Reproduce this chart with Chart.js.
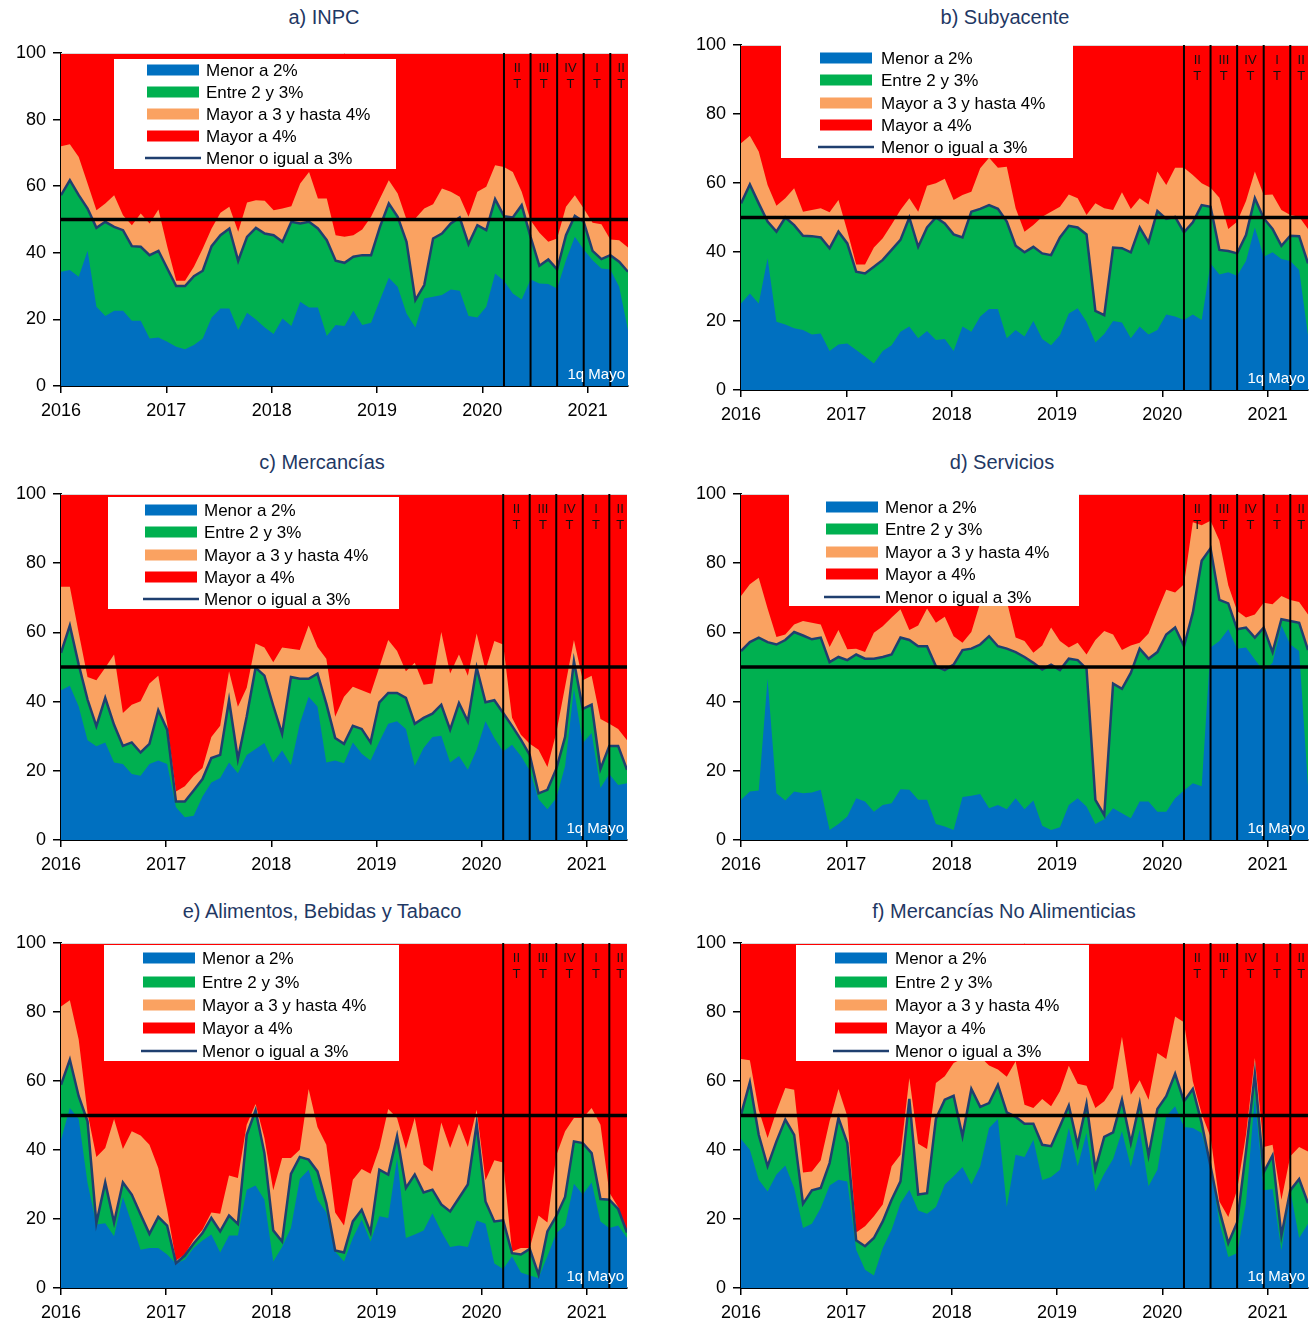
<!DOCTYPE html>
<html>
<head>
<meta charset="utf-8">
<script src="https://cdn.jsdelivr.net/npm/chart.js@4.4.0/dist/chart.umd.min.js"></script>
<style>
  html, body { margin: 0; padding: 0; background: #ffffff; }
  body { width: 1310px; height: 1328px; position: relative; overflow: hidden; font-family: "Liberation Sans", Arial, sans-serif; }
  .panel { position: absolute; }
  .title { position: absolute; transform: translate(-50%, -50%); font-size: 20px; color: #1F3864; white-space: nowrap; }
</style>
</head>
<body>
<script>
// ---------- categories / labels ----------
const years = ['2016', '2017', '2018', '2019', '2020', '2021'];
const monthNames = ['Ene','Feb','Mar','Abr','May','Jun','Jul','Ago','Sep','Oct','Nov','Dic'];
const months = [];
for (let yy = 2016; yy <= 2021; yy++) {
  for (let m = 0; m < 12; m++) {
    if (yy === 2021 && m > 4) break;
    months.push(monthNames[m] + '-' + String(yy).slice(2));
  }
}
months[months.length - 1] = '1q May-21';
const lastLabel = '1q Mayo';
const quarterEnds = [50, 53, 56, 59, 62];           // Mar-20, Jun-20, Sep-20, Dic-20, Mar-21
const quarterLabels = [['II','T'], ['III','T'], ['IV','T'], ['I','T'], ['II','T']];
const referenceLevel = 50;
const seriesNames = ['Menor a 2%', 'Entre 2 y 3%', 'Mayor a 3 y hasta 4%', 'Mayor a 4%', 'Menor o igual a 3%'];

// ---------- data (cumulative shares, % of items) ----------
// a) INPC
const inpcMenor2  = [34.3,34.8,32.8,40.6,23.8,21,22.6,22.6,19.6,19.6,14.3,14.6,13.3,11.8,11,12.3,14.3,20.6,23.3,23.3,16.8,22,20,17.6,15.6,20.3,18,25.3,23.6,23.6,15,18.3,18,22.6,18.3,19,25.8,32.5,29.8,21.8,17.6,26.3,26.8,27.3,29,28.6,21,20.6,23.8,33.8,31.6,27.8,26,32,30.8,30.6,29.3,37.8,44.8,41,37.8,35.3,35,29.8,16.8];
const inpcHasta3  = [57.3,61.8,57.3,53.3,47.5,49.3,47.8,46.8,42,41.8,39.3,40.6,35.3,30,30,33,34.6,42,45.3,47.3,37.6,44.8,47.5,45.8,45.3,43.3,49.3,48.8,49.3,47.3,43.8,37.6,37,38.8,39.3,39.3,47.8,54.8,50.8,43.3,25.8,30.3,44.3,45.8,48.8,50.6,42.6,48.3,46.8,56.1,51,50.6,54.3,44.8,36.1,38,35,45.3,51.1,49.3,40.6,38.1,39.3,37.3,34.3];
const inpcHasta4  = [72,72.6,68.8,60.8,52.8,54.8,57.3,51.3,48.3,51.8,48.8,53,41.8,31.6,31.6,35.8,41.3,47.3,52,53.8,46.3,55.1,55.8,55.6,52.8,53.3,54,60.8,64.3,56.3,56.3,45.3,44.8,45.3,47,50.8,56.3,61.8,57.8,50,50.3,53.3,54.6,59.3,58.3,56.8,50.8,58.3,59.8,66.3,65.8,64.3,58.3,49.8,46,43.3,44.3,53.8,57.3,53.3,49,48.6,44,43.8,41.6];
// b) Subyacente
const subyMenor2  = [25.1,28,25.1,38.2,19.8,19,17.9,17.4,16.1,16.4,11.3,13.2,13.5,11.6,9.7,7.7,11.3,13,16.9,18.4,15,17.1,14.5,14.8,11.3,18.4,16.9,21.3,23.5,23.5,15,17.4,15.5,20,14.8,13,15.9,22.2,23.7,19.8,13.8,16.2,20,19.6,15,18.4,16.1,17.4,21.9,21.3,20.3,21.9,20.3,36.7,33.5,34.1,33.1,37.4,47.1,38.6,39.9,38,37.4,34.8,15.9];
const subyHasta3  = [54.1,59.6,54.1,48.8,45.9,50,47.8,44.7,44.6,44.2,41.1,45.9,42.5,34.3,33.8,35.7,37.7,40.6,43.5,50,41.5,47.1,50,48.3,45.1,44.2,51.7,52.5,53.6,52.5,48.8,41.8,39.9,41.5,39.6,39.1,44.2,47.6,47.1,45.1,22.9,21.7,41.3,41.1,39.9,47.1,42.8,51.9,49.6,50.2,45.7,48.6,53.6,53.1,40.6,40.3,39.6,44.9,55.6,49.8,46.7,41.8,44.7,44.6,36.7];
const subyHasta4  = [71.5,73.7,69.1,59.4,53.4,55.6,58.5,51.7,52.2,52.7,51.5,55.1,46.1,36.4,36.4,41.3,44,48,52.2,55.6,51.7,59.2,59.9,61.2,55.1,56.5,57.5,64.3,67.3,64.4,64.7,52.7,45.9,47.8,50.2,51.7,53.1,56.7,55.6,50.7,54.1,52.7,52.2,57.3,52.5,55.6,53.8,63.3,59.4,64.4,64.4,62.3,59.9,58.6,55.7,46.7,48.8,54.8,63.3,56.5,56.7,52.2,50.7,50.2,46.7];
// c) Mercancías
const mercMenor2  = [43.3,44.6,38.6,28.8,27.1,28.2,22.4,22,19.1,18.6,22,23,22,9.5,6.6,7,12.6,16.6,17.9,22.4,19.3,24.6,26.3,28,22.4,25.9,21.7,33.6,41.4,38.6,22.4,23,22.2,28.2,24.9,23,28.5,33.6,34.3,32.1,21.4,26.6,29.8,30.1,22.4,24.3,20.3,26.1,34.3,29.5,25.6,27.5,24.3,20.1,11.8,8.9,12.1,21.4,43.7,28,30.9,15,19.1,15.9,16.4];
const mercHasta3  = [54.1,62,50.7,40.6,32.9,41.1,33.3,27.2,28.2,25.3,27.8,37.5,31.9,11.1,11.1,14.3,17.6,23.7,24.6,40.4,23.4,35.7,49.8,47.5,38.8,30.7,47.1,46.6,46.6,48.1,39.4,29.5,27.8,33,32.1,28.2,39.8,42.5,42.5,41.1,33.6,35.3,36.5,39.1,31.9,39.6,34.3,49.8,39.8,40.4,36.7,33,29,24.6,13.5,14.5,20.5,29.8,51.7,37.9,39.1,20.5,27.2,27.2,20.3];
const mercHasta4  = [73.2,73.2,59.9,47.1,46.2,49.8,53.6,36.7,39.1,40.1,45.2,47.5,33.6,14,15.5,18.6,20.8,29.8,33,48.8,38.5,44,56.8,55.6,51.4,55.6,55.3,54.9,62,55.8,52.4,35.6,41.4,44.3,43.3,42.3,50,57.8,54.6,48.8,51.2,44.9,45.2,60.1,48.1,53.6,47.5,59.7,49.1,57.5,56.5,35.3,30.4,27.8,26.1,21.1,30.9,44.4,57.8,46.2,47.5,35,33.6,32.1,28.8];
// d) Servicios
const servMenor2  = [11.6,14,14.3,46.6,13.5,11.4,14,13.5,13.7,14.5,2.9,4.6,6.8,12.1,11.1,8.2,10.1,10.6,14.7,14.5,11.6,11.6,4.6,3.9,2.9,12.4,12.8,13.3,9.2,10.1,8.9,12.1,8.9,11.4,4.1,2.9,3.7,10.1,12.1,9.7,4.6,6,9.2,7.7,6.3,11.1,11.1,8.2,8.2,12.1,14.3,16.4,15.5,55.6,57.5,60.9,55.3,55.6,52.2,48.8,51.2,62,56.5,54.6,15.5];
const servHasta3  = [54.6,57.2,58.5,57.2,56.5,57.8,60.1,59.1,58,58.5,51.4,52.9,52,53.6,52.4,52.4,52.9,53.6,58.5,57.8,56,56,50.2,49.1,50.7,54.9,55.3,56.5,58.9,56,55.3,54.3,52.9,51.2,49.3,50.7,49.1,52.4,52,49.5,11.6,7.2,45.2,43.7,48.3,55.3,52.4,54.3,59.4,61.4,56,65.7,80.7,84.3,69.4,68.4,60.9,61.4,58.5,61.4,54.3,63.8,63.3,62.8,54.9];
const servHasta4  = [70.5,73.9,75.8,66.9,58.7,59.4,62.3,63.3,62.8,62.3,55.8,60.7,55.1,55.3,54.3,59.9,61.8,64.3,66.7,60.7,62,66.9,62.8,64.5,58.9,57,60.1,68.6,68.6,68.6,69.1,58.5,57.5,54.1,56.2,61.4,57.5,55.6,57,53.6,57.8,60.4,59.4,54.9,56.2,57,59.7,66.2,72.3,71.5,73.9,91.8,91,92.3,86.5,73.6,66.2,64.3,65.2,68.6,68.1,70.5,69.4,68.8,65.2];
// e) Alimentos, Bebidas y Tabaco
const alimMenor2  = [43,52.2,49,30.4,18.4,18.8,15,26.4,18.8,11.1,11.6,11.6,9.7,7.1,8.2,11.6,13.8,15.5,10.3,15.2,15.2,28.5,29.7,25.6,7.7,11.9,17.4,31.6,34.3,25.6,21.9,10.6,7.7,14.5,19.8,13.5,20.8,20.3,37.7,14.5,15.5,16.7,21.7,16.4,11.9,12.3,11.9,19.6,18.6,7.1,5.5,9.2,4.5,3.6,2.9,9.2,15.9,18.1,30.2,27.1,30.6,19.3,17.4,18.1,14.5];
const alimHasta3  = [58.9,66.2,55.6,48.3,18.8,30.6,19,30.6,27.1,21.3,15.7,20.6,18.1,7.2,9.4,12.9,15.9,20.3,16.4,21,18.6,44.4,51.5,39.1,16.7,13.5,33.1,38,37.2,33.8,24.6,10.9,10.3,19.3,22.7,16.1,34.3,32.9,44,29,32.9,27.7,28.5,24.2,22.2,26.1,30,47.6,25.1,19.3,19.6,10.1,9.7,11.3,3.9,16.4,20.8,26.4,42.5,42,39.1,25.8,25.6,22.9,16.1];
const alimHasta4  = [81.6,83.4,72,50.7,38,40.6,49,40.3,45.4,44.2,41.5,34.8,22.7,8,9.7,14,16.9,21.9,21.5,32.6,31.9,47.3,53.3,43.5,28.3,37.7,37.7,40.1,57.7,46.7,41.5,21.9,18.1,31.4,34.5,33.1,40.6,51.9,49.3,40.3,49.3,35.7,33.8,48,40.6,47.6,40.9,51.7,31.2,37,36.4,10.6,11.6,11.6,21,19,38.4,45.4,49.3,49.3,52.2,47.3,27.7,23.5,16.4];
// f) Mercancías No Alimenticias
const noAlMenor2  = [43.2,40.1,31.4,28,32.9,35.5,29,17.4,18.6,23.2,29.7,31.4,30.9,11.1,5.3,3.6,11.6,16.9,24.6,28.5,22.5,21.5,23.5,30,32.4,35.1,30,35.3,46.4,49,23.5,38.6,38,43,31.2,32.2,34.3,46.4,35.3,44.9,28,33.1,37.4,45.4,35.1,45.9,29.5,34.3,49.8,52.7,46.7,46.4,44.9,35.3,19,9,10.1,24.6,55.6,28.3,28.7,10.9,28.3,14.5,18.6];
const noAlHasta3  = [50.2,59.6,44.4,35.3,42.5,48.8,44.4,24.4,28.3,29,36.2,49.3,42,13.8,12.1,14.5,19.3,25.6,30.9,54.8,27.1,27.5,49,54.6,55.7,44,57.7,52.5,53.6,58.9,50.9,49.6,47.6,47.6,41.5,41.1,46.9,52.9,41.5,53.4,34.5,43.8,45.1,54.6,42,53.6,38.4,51.9,55.6,62.1,54.1,57.7,47.8,35.3,22.5,13,19,39.6,62.1,33.5,38.4,15.2,28.3,31.6,24.6];
const noAlHasta4  = [66.4,66,51.7,43.5,51.2,58,57.5,33.5,33.8,37,48.3,57.7,49.8,16.1,17.9,20.8,24.2,35.3,38.6,60.9,41.8,40.3,59.4,61.4,65.2,66.5,68.1,67,64.5,63.3,61.2,65.7,53.1,52.2,54.8,52.7,57,64.4,59.2,58.6,52.2,54.1,58,72.8,56,60.2,54.6,68.1,66.4,78.7,77,59.9,50.5,43.8,25.1,20.6,28.5,44.4,66.7,40.9,41.5,25.6,38.2,40.9,39.6];
const TOTAL = 100;

// ---------- styles / layout ----------
const COLORS = { menor2: '#0070C0', entre23: '#00B050', mayor34: '#FAA261', mayor4: '#FF0000', line: '#1F3F6F' };
const FONT = '"Liberation Sans", Arial, sans-serif';
const X_SPAN = 64.6;                       // months from Jan-2016 to the 1q May-2021 point
const xOf = i => i * X_SPAN / (months.length - 1);

const panels = [
  { title: 'a) INPC', lo: inpcMenor2, mid: inpcHasta3, hi: inpcHasta4,
    left: 0, top: 0, width: 655, height: 426, padTop: 53, padRight: 27, tx: 324, ty: 17,
    legend: { x: 53, y: 6, w: 282, h: 110, sw: 86, tx: 145, rows: [17, 39, 61, 83, 105] } },
  { title: 'b) Subyacente', lo: subyMenor2, mid: subyHasta3, hi: subyHasta4,
    left: 680, top: 0, width: 630, height: 430, padTop: 45, padRight: 2, tx: 1005, ty: 17,
    legend: { x: 40, y: 0, w: 292, h: 113, sw: 79, tx: 140, rows: [13, 35, 58, 80, 102] } },
  { title: 'c) Mercancías', lo: mercMenor2, mid: mercHasta3, hi: mercHasta4,
    left: 0, top: 445, width: 655, height: 435, padTop: 49, padRight: 28, tx: 322, ty: 462,
    legend: { x: 47, y: 3, w: 291, h: 112, sw: 84, tx: 143, rows: [16, 38, 61, 83, 105] } },
  { title: 'd) Servicios', lo: servMenor2, mid: servHasta3, hi: servHasta4,
    left: 680, top: 445, width: 630, height: 435, padTop: 49, padRight: 2, tx: 1002, ty: 462,
    legend: { x: 48, y: 0, w: 290, h: 112, sw: 85, tx: 144, rows: [13, 35, 58, 80, 103] } },
  { title: 'e) Alimentos, Bebidas y Tabaco', lo: alimMenor2, mid: alimHasta3, hi: alimHasta4,
    left: 0, top: 894, width: 655, height: 434, padTop: 49, padRight: 28, tx: 322, ty: 911,
    legend: { x: 43, y: 2, w: 295, h: 116, sw: 82, tx: 141, rows: [15, 39, 62, 85, 108] } },
  { title: 'f) Mercancías No Alimenticias', lo: noAlMenor2, mid: noAlHasta3, hi: noAlHasta4,
    left: 680, top: 894, width: 630, height: 434, padTop: 49, padRight: 2, tx: 1004, ty: 911,
    legend: { x: 55, y: 2, w: 293, h: 116, sw: 94, tx: 154, rows: [15, 39, 62, 85, 108] } }
];

const decor = {
  id: 'decor',
  afterDatasetsDraw(chart, args, opts) {
    const { ctx, chartArea: a, scales: { x, y } } = chart;
    const p = opts.panel;
    ctx.save();
    // thin top border of plot area
    ctx.strokeStyle = '#d9d9d9'; ctx.lineWidth = 1;
    ctx.beginPath(); ctx.moveTo(a.left, a.top + 0.5); ctx.lineTo(a.right, a.top + 0.5); ctx.stroke();
    // quarter separators
    ctx.strokeStyle = '#000'; ctx.lineWidth = 2;
    const qx = quarterEnds.map(i => x.getPixelForValue(xOf(i)));
    qx.forEach(px => { ctx.beginPath(); ctx.moveTo(px, a.top); ctx.lineTo(px, a.bottom); ctx.stroke(); });
    const ends = qx.concat([x.getPixelForValue(xOf(months.length - 1)) + 4]);
    ctx.fillStyle = '#111'; ctx.font = '13px ' + FONT; ctx.textAlign = 'center'; ctx.textBaseline = 'middle';
    quarterLabels.forEach((lab, k) => {
      const cx = (ends[k] + ends[k + 1]) / 2;
      ctx.fillText(lab[0], cx, a.top + 15);
      ctx.fillText(lab[1], cx, a.top + 31);
    });
    // 50% reference
    const y50 = y.getPixelForValue(referenceLevel);
    ctx.lineWidth = 3.5;
    ctx.beginPath(); ctx.moveTo(a.left, y50); ctx.lineTo(a.right, y50); ctx.stroke();
    // last observation note
    ctx.fillStyle = '#fff'; ctx.font = '15px ' + FONT; ctx.textAlign = 'right';
    ctx.fillText(lastLabel, a.right - 3, a.bottom - 11);
    // legend
    const L = p.legend;
    ctx.fillStyle = '#fff';
    ctx.fillRect(a.left + L.x, a.top + L.y, L.w, L.h);
    const cols = [COLORS.menor2, COLORS.entre23, COLORS.mayor34, COLORS.mayor4];
    ctx.font = '17px ' + FONT; ctx.textAlign = 'left'; ctx.textBaseline = 'middle';
    seriesNames.forEach((name, k) => {
      const ry = a.top + L.rows[k];
      if (k < 4) {
        ctx.fillStyle = cols[k];
        ctx.fillRect(a.left + L.sw, ry - 5.5, 52, 11);
      } else {
        ctx.strokeStyle = COLORS.line; ctx.lineWidth = 2.5;
        ctx.beginPath(); ctx.moveTo(a.left + L.sw - 2, ry); ctx.lineTo(a.left + L.sw + 54, ry); ctx.stroke();
      }
      ctx.fillStyle = '#000';
      ctx.fillText(name, a.left + L.tx, ry + 1);
    });
    ctx.restore();
  }
};

panels.forEach(p => {
  const t = document.createElement('div');
  t.className = 'title';
  t.style.left = p.tx + 'px'; t.style.top = p.ty + 'px';
  t.textContent = p.title;
  document.body.appendChild(t);

  const c = document.createElement('canvas');
  c.className = 'panel';
  c.width = p.width; c.height = p.height;
  c.style.left = p.left + 'px'; c.style.top = p.top + 'px';
  c.style.width = p.width + 'px'; c.style.height = p.height + 'px';
  document.body.appendChild(c);

  const pts = arr => arr.map((v, i) => ({ x: xOf(i), y: v }));
  const area = (label, arr, color, order) => ({
    label, data: pts(arr), backgroundColor: color, borderColor: color, borderWidth: 0,
    fill: 'origin', pointRadius: 0, tension: 0, order
  });

  new Chart(c, {
    type: 'line',
    data: {
      datasets: [
        area(seriesNames[0], p.lo, COLORS.menor2, 1),
        area(seriesNames[1], p.mid, COLORS.entre23, 2),
        area(seriesNames[2], p.hi, COLORS.mayor34, 3),
        area(seriesNames[3], p.hi.map(() => TOTAL), COLORS.mayor4, 4),
        { label: seriesNames[4], data: pts(p.mid), borderColor: COLORS.line, borderWidth: 2.5,
          fill: false, pointRadius: 0, tension: 0, order: 0 }
      ]
    },
    options: {
      responsive: false, animation: false, devicePixelRatio: 1,
      layout: { padding: { top: p.padTop, right: p.padRight, bottom: 0, left: 0 } },
      plugins: { legend: { display: false }, tooltip: { enabled: false }, decor: { panel: p } },
      scales: {
        x: {
          type: 'linear', min: 0, max: X_SPAN, z: 1,
          afterBuildTicks: s => { s.ticks = years.map((_, k) => ({ value: k * 12 })); },
          afterFit: s => { s.height = 40; },
          ticks: { callback: v => years[Math.round(v / 12)], color: '#000', font: { family: FONT, size: 18 },
                   padding: 7, maxRotation: 0, autoSkip: false },
          grid: { drawOnChartArea: false, drawTicks: true, tickLength: 7, color: '#000', lineWidth: 1.5 },
          border: { display: true, color: '#000', width: 2 }
        },
        y: {
          min: 0, max: 100, z: 1,
          afterFit: s => { s.width = 61; },
          ticks: { stepSize: 20, color: '#000', font: { family: FONT, size: 18 }, padding: 7 },
          grid: { drawOnChartArea: false, drawTicks: true, tickLength: 8, color: '#000', lineWidth: 1.5 },
          border: { display: true, color: '#000', width: 2 }
        }
      }
    },
    plugins: [decor]
  });
});
</script>
</body>
</html>
